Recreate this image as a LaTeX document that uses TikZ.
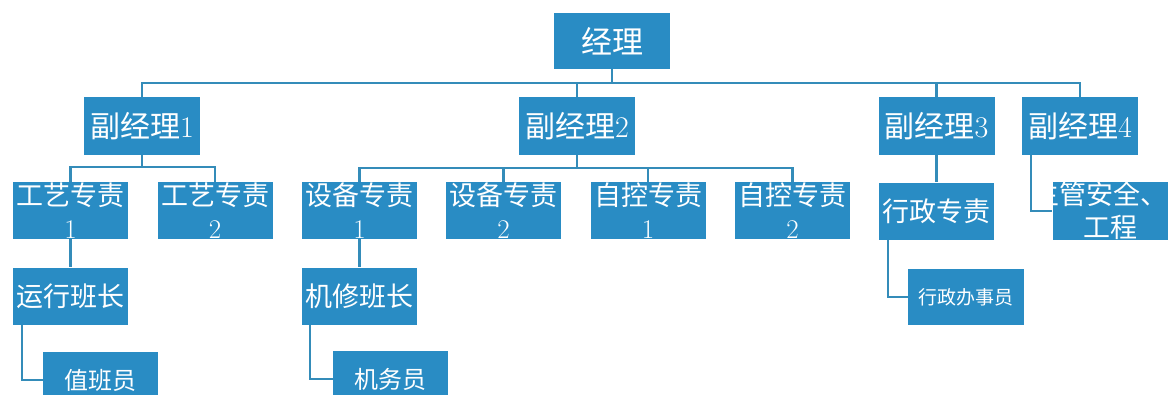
\documentclass[tikz,border=0pt]{standalone}
\usepackage{fontspec}
\newfontfamily\cjk{Noto Sans CJK SC}
\usetikzlibrary{shapes}
\definecolor{boxblue}{RGB}{41,140,196}
\definecolor{lineblue}{RGB}{52,140,185}
\newcommand{\dg}[1]{{\rmfamily #1}}
\tikzstyle{box}=[rectangle,fill=boxblue,text=white,inner sep=0pt,align=center]
\tikzstyle{top}=[box,minimum width=116pt,minimum height=56pt,font=\cjk\fontsize{31}{34}\selectfont]
\tikzstyle{vice}=[box,minimum width=116pt,minimum height=58pt,font=\cjk\fontsize{30}{34}\selectfont]
\tikzstyle{duty}=[box,minimum width=115pt,minimum height=57pt,font=\cjk\fontsize{27}{33}\selectfont]
\tikzstyle{small}=[box,minimum width=116pt,minimum height=56pt,font=\cjk\fontsize{19}{22}\selectfont]
\tikzstyle{staff}=[box,minimum width=115pt,minimum height=56pt,font=\cjk\fontsize{24}{28}\selectfont]
\tikzstyle{conn}=[draw=lineblue,line width=2.2pt]

\begin{document}
\begin{tikzpicture}[x=1pt,y=-1pt]
\useasboundingbox (0,0) rectangle (1172,394);
\node[top] (jl) at (612,41) {经理};
\node[vice] (fj1) at (142,126) {副经理\dg{1}};
\node[vice] (fj2) at (577,126) {副经理\dg{2}};
\node[vice] (fj3) at (936.5,126) {副经理\dg{3}};
\node[vice] (fj4) at (1080,126) {副经理\dg{4}};
\node[duty] (gy1) at (70.5,210.5) {工艺专责\\\dg{1}};
\node[duty] (gy2) at (215,210.5) {工艺专责\\\dg{2}};
\node[duty] (sb1) at (359.5,210.5) {设备专责\\\dg{1}};
\node[duty] (sb2) at (503.5,210.5) {设备专责\\\dg{2}};
\node[duty] (zk1) at (648,210.5) {自控专责\\\dg{1}};
\node[duty] (zk2) at (792.5,210.5) {自控专责\\\dg{2}};
\node[duty] (xz) at (936.5,211) {行政专责};
\node[duty] (zg) at (1110,211) {\makebox[115pt][r]{主管安全、}\\工程};
\node[duty] (yx) at (70.5,296) {运行班长};
\node[duty] (jx) at (359.5,296) {机修班长};
\node[small] (xzb) at (966,297) {行政办事员};
\node[staff] (zb) at (100.5,380) {值班员};
\node[staff] (jw) at (390.5,379) {机务员};
% manager -> vice managers
\draw[conn] (jl.south) -- ++(0,14) -| (fj1.north);
\draw[conn] (jl.south) -- ++(0,14) -| (fj2.north);
\draw[conn] (jl.south) -- ++(0,14) -| (fj3.north);
\draw[conn] (jl.south) -- ++(0,14) -| (fj4.north);
\draw[conn] (fj1.south) -- ++(0,12) -| (gy1.north);
\draw[conn] (fj1.south) -- ++(0,12) -| (gy2.north);
\draw[conn] (fj2.south) -- ++(0,13) -| (sb1.north);
\draw[conn] (fj2.south) -- ++(0,13) -| (sb2.north);
\draw[conn] (fj2.south) -- ++(0,13) -| (zk1.north);
\draw[conn] (fj2.south) -- ++(0,13) -| (zk2.north);
\draw[conn] (fj3.south) -- (xz.north);
\draw[conn] ([xshift=9pt]fj4.south west) |- (zg.west);
\draw[conn] (gy1.south) -- (yx.north);
\draw[conn] (sb1.south) -- (jx.north);
\draw[conn] ([xshift=9pt]xz.south west) |- (xzb.west);
\draw[conn] ([xshift=9pt]yx.south west) |- (zb.west);
\draw[conn] ([xshift=8pt]jx.south west) |- (jw.west);
\end{tikzpicture}
\end{document}
